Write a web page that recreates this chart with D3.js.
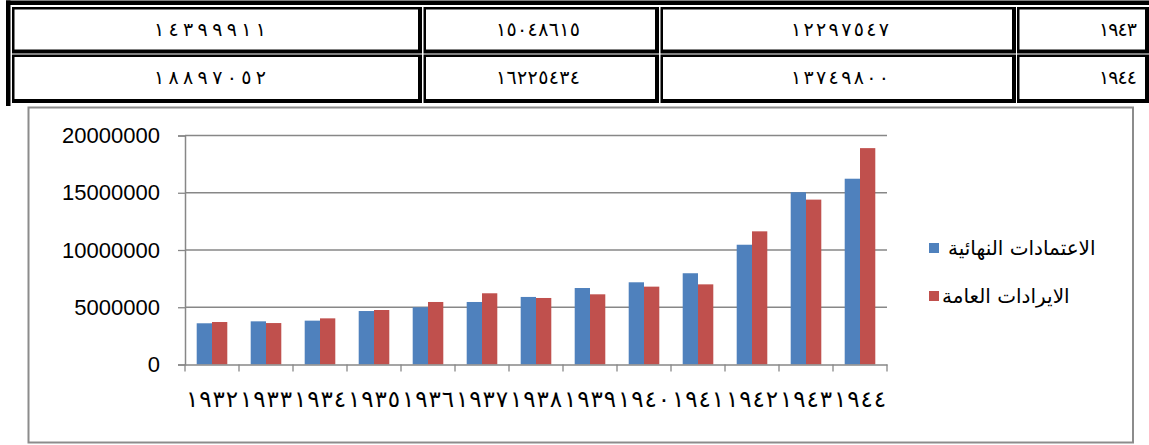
<!DOCTYPE html>
<html>
<head>
<meta charset="utf-8">
<script src="https://cdn.jsdelivr.net/npm/d3@7"></script>
<style>
  html, body { margin: 0; padding: 0; background: #fff; }
  svg { display: block; }
</style>
</head>
<body>
<svg id="chart" width="1149" height="445"></svg>
<script>
// Years on the category axis (Arabic-Indic digits)
const years = ["١٩٣٢","١٩٣٣","١٩٣٤","١٩٣٥","١٩٣٦","١٩٣٧","١٩٣٨","١٩٣٩","١٩٤٠","١٩٤١","١٩٤٢","١٩٤٣","١٩٤٤"];

// Series names
const seriesNames = ["الاعتمادات النهائية", "الايرادات العامة"];

// Final appropriations per year
const appropriations = [3600000, 3770000, 3830000, 4670000, 5000000, 5460000, 5900000,
                        6680000, 7180000, 7970000, 10460000, 15048615, 16225434];

// Public revenues per year
const revenues = [3710000, 3620000, 4030000, 4760000, 5460000, 6220000, 5810000,
                  6130000, 6800000, 7000000, 11630000, 14399911, 18897052];

// Initial appropriations for the two rows shown in the table
const initialAppropriations = [12297547, 13749800];

// Value-axis ticks
const yTicks = [0, 5000000, 10000000, 15000000, 20000000];

// Table rows: last two years
const tableYearIdx = [11, 12];

const colors = ["#4F81BD", "#C0504D"];

const svg = d3.select("#chart");
const arabicDigits = s => String(s).replace(/[0-9]/g, d => "٠١٢٣٤٥٦٧٨٩"[+d]);

/* ---------- table ---------- */
const tbl = svg.append("g");
// outer frame (top and left heavy rules)
tbl.append("rect").attr("x", 6).attr("y", 0.5).attr("width", 1143).attr("height", 4.5).attr("fill", "#000");
tbl.append("rect").attr("x", 6).attr("y", 0.5).attr("width", 4.5).attr("height", 105.5).attr("fill", "#000");

const colEdges = [[12, 422], [423.5, 659], [660.5, 1016], [1017, 1149]];
const rowEdges = [[7, 53.5], [54.5, 103]];
// text anchor per column: centre x for value cells, right edge for the year cell
const colTextX = [210, 538, 840, 1137];
const colTextLen = [112, 84, 98, 38];

const tableRows = tableYearIdx.map((yi, r) => [
  revenues[yi], appropriations[yi], initialAppropriations[r], years[yi]
]);

rowEdges.forEach(([y0, y1], r) => {
  colEdges.forEach(([x0, x1], c) => {
    tbl.append("rect").attr("x", x0).attr("y", y0).attr("width", x1 - x0).attr("height", y1 - y0).attr("fill", "#000");
    tbl.append("rect").attr("x", x0 + 2.5).attr("y", y0 + 2.5)
      .attr("width", x1 - x0 - 6.5).attr("height", y1 - y0 - 6.5).attr("fill", "#fff");
    const v = tableRows[r][c];
    const isYear = c === 3;
    tbl.append("text")
      .attr("x", colTextX[c])
      .attr("y", (y0 + y1) / 2 - 1)
      .attr("dy", "0.35em")
      .attr("text-anchor", isYear ? "end" : "middle")
      .attr("font-family", "DejaVu Sans")
      .attr("font-size", 19)
      .attr("textLength", colTextLen[c])
      .attr("lengthAdjust", "spacing")
      .attr("fill", "#000")
      .text(isYear ? v : arabicDigits(v));
  });
});

/* ---------- chart ---------- */
svg.append("rect")
  .attr("x", 28.5).attr("y", 107.5).attr("width", 1104.5).attr("height", 335)
  .attr("fill", "none").attr("stroke", "#8c8c8c").attr("stroke-width", 2);

const x0 = d3.scaleBand().domain(years).range([185, 887]).padding(0);
const x1 = d3.scaleBand().domain([0, 1]).range([0, x0.bandwidth()]).paddingInner(0).paddingOuter(0.765);
const y = d3.scaleLinear().domain([0, 20000000]).range([364.5, 135.5]);

const gridColor = "#878787";

// horizontal gridlines
svg.append("g").selectAll("line").data(yTicks.filter(t => t > 0)).join("line")
  .attr("x1", 185).attr("x2", 887)
  .attr("y1", d => y(d)).attr("y2", d => y(d))
  .attr("stroke", gridColor).attr("stroke-width", 1.3);

// bars
const seriesData = [appropriations, revenues];
const groups = svg.append("g").selectAll("g").data(years).join("g")
  .attr("transform", d => `translate(${x0(d)},0)`);
groups.selectAll("rect").data((d, i) => seriesData.map((s, k) => ({ k, v: s[i] }))).join("rect")
  .attr("x", d => x1(d.k))
  .attr("y", d => y(d.v))
  .attr("width", x1.bandwidth())
  .attr("height", d => y(0) - y(d.v))
  .attr("fill", d => colors[d.k]);

// value axis
const yAxis = svg.append("g").attr("transform", "translate(185,0)")
  .call(d3.axisLeft(y).tickValues(yTicks).tickFormat(d3.format("d")).tickSize(7).tickPadding(18));
yAxis.select(".domain").attr("stroke", gridColor).attr("stroke-width", 1.5);
yAxis.selectAll(".tick line").attr("stroke", gridColor).attr("stroke-width", 1.3);
yAxis.selectAll("text").attr("font-family", "Liberation Sans").attr("font-size", 22).attr("fill", "#000");

// category axis
const xAxis = svg.append("g").attr("transform", `translate(0,${y(0)})`)
  .call(d3.axisBottom(x0).tickSize(0).tickPadding(26));
xAxis.select(".domain").attr("stroke", gridColor).attr("stroke-width", 1.5);
xAxis.selectAll("text").attr("font-family", "DejaVu Sans").attr("font-size", 23)
  .attr("textLength", 52).attr("lengthAdjust", "spacing").attr("fill", "#000");
// tick marks on category boundaries
xAxis.selectAll(".bound").data(years.concat([null])).join("line").attr("class", "bound")
  .attr("x1", (d, i) => i < years.length ? x0(d) : x0.range()[1])
  .attr("x2", (d, i) => i < years.length ? x0(d) : x0.range()[1])
  .attr("y1", 0).attr("y2", 7)
  .attr("stroke", gridColor).attr("stroke-width", 1.3);

// legend
const legend = svg.append("g");
const legendRows = [{ y: 248, tx: 948 }, { y: 296, tx: 942 }];
seriesNames.forEach((name, k) => {
  legend.append("rect").attr("x", 929).attr("y", legendRows[k].y - 5).attr("width", 10).attr("height", 10).attr("fill", colors[k]);
  legend.append("text")
    .attr("x", legendRows[k].tx).attr("y", legendRows[k].y).attr("dy", "0.35em")
    .attr("font-family", "DejaVu Sans").attr("font-size", 20).attr("fill", "#000")
    .text(name);
});
</script>
</body>
</html>
